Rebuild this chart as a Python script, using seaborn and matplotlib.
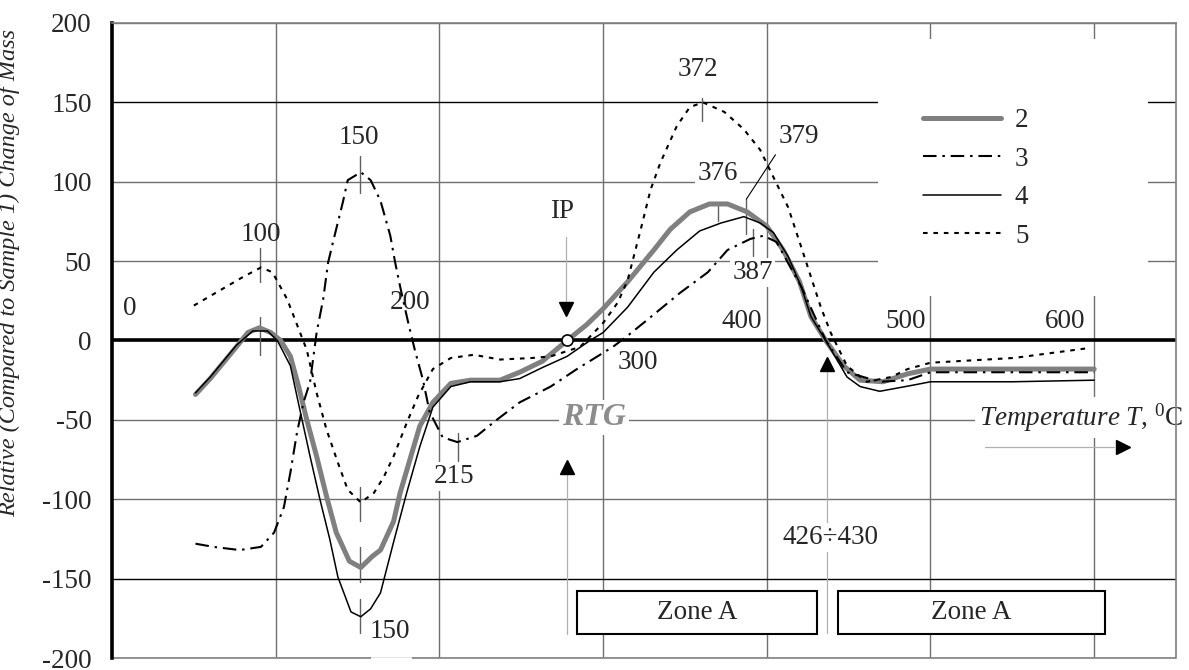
import numpy as np
import pandas as pd
import seaborn as sns
import matplotlib.pyplot as plt
from matplotlib.patches import Rectangle

# curves: temperature (deg C) and relative change of mass
x2 = [51, 60, 68, 76, 83, 90, 97, 103, 109, 114, 119, 125, 131, 137, 145, 152, 159, 164, 172, 176,
      182, 188, 196, 207, 219, 237, 249, 263, 278, 290, 300, 315, 331, 341, 353, 365, 376, 388, 400, 410,
      420, 427, 436, 447, 457, 471, 486, 500, 550, 600]
y2 = [-34, -24, -14, -4, 5, 8, 5, 0, -10, -29, -50, -73, -98, -121, -139, -143, -136, -132, -114, -96,
      -75, -54, -39, -27, -25, -25, -20, -13, 0, 10, 20, 37, 57, 70, 81, 86, 86, 81, 72, 57,
      37, 15, 0, -16, -25, -26, -21, -18, -18, -18]

x3 = [51, 62, 78, 91, 99, 105, 109, 113, 117, 121, 125, 129, 132, 135, 141, 144, 152, 158, 164, 170,
      173, 176, 181, 185, 190, 194, 202, 211, 223, 235, 249, 268, 284, 306, 315, 327, 347, 364, 376, 390,
      398, 406, 414, 421, 436, 449, 469, 486, 500, 550, 600]
y3 = [-128, -130, -132, -130, -121, -105, -83, -58, -39, -26, 5, 26, 49, 62, 87, 101, 106, 101, 88, 66,
      49, 34, 11, -6, -25, -45, -61, -64, -60, -50, -39, -29, -18, -4, 3, 13, 30, 43, 57, 64,
      66, 62, 47, 34, 0, -20, -26, -25, -20, -20, -20]

x4 = [51, 60, 68, 76, 86, 95, 101, 109, 114, 121, 127, 133, 138, 146, 152, 158, 164, 172, 180, 188,
      196, 207, 219, 237, 249, 263, 278, 292, 300, 315, 331, 345, 359, 372, 386, 396, 404, 413, 421, 427,
      436, 449, 457, 469, 490, 500, 550, 600]
y4 = [-33, -23, -13, -3, 6, 6, 0, -16, -40, -73, -100, -125, -149, -171, -174, -169, -159, -127, -96, -67,
      -42, -29, -26, -26, -24, -17, -10, 0, 5, 21, 43, 57, 69, 74, 78, 74, 68, 53, 34, 15,
      0, -23, -29, -32, -28, -26, -26, -25]

x5 = [50, 60, 70, 80, 91, 98, 107, 113, 119, 125, 131, 138, 144, 152, 160, 166, 172, 180, 187, 196,
      207, 221, 237, 257, 268, 286, 300, 309, 315, 323, 329, 335, 345, 353, 361, 374, 386, 396, 404, 413,
      421, 433, 439, 449, 461, 476, 486, 500, 551, 595]
y5 = [22, 28, 34, 40, 46, 43, 26, 10, -6, -33, -56, -77, -94, -102, -96, -86, -73, -52, -35, -18,
      -11, -9, -12, -11, -10, -4, 11, 24, 38, 70, 95, 112, 135, 147, 150, 144, 133, 120, 103, 84,
      59, 21, 5, -16, -26, -23, -18, -14, -11, -5]

# annotation texts (label, T, value)
notes = [('0', 11, 20), ('100', 91, 67), ('150', 151, 128), ('200', 182, 24), ('300', 321.5, -14),
         ('400', 385, 12), ('500', 485, 12), ('600', 582, 12), ('372', 358, 171), ('379', 419.5, 128.5)]
boxed_notes = [('376', 370, 105), ('387', 391.5, 43), ('215', 209, -85.6), ('150', 170, -183),
               ('426÷430', 439, -124)]
# small marker ticks at the extrema (T, from, to)
marks = [(90.5, 37, 58), (90.5, -9, 14.5), (151.6, 93, 116), (151.6, -92, -114), (151.6, -130, -152),
         (151.6, -163, -184), (211.5, -58, -76), (360.6, 138, 153), (370.4, 75, 86), (387.5, 67, 89),
         (391.6, 53, 70)]

FS = 19.5

sns.set_style("white")
plt.rcParams['font.family'] = ['Liberation Serif', 'DejaVu Serif']
plt.rcParams['mathtext.fontset'] = 'custom'
plt.rcParams['mathtext.rm'] = 'Liberation Serif'
plt.rcParams['mathtext.it'] = 'Liberation Serif:italic'
plt.rcParams['axes.unicode_minus'] = False

fig = plt.figure(figsize=(11.89, 6.70), dpi=100)
ax = fig.add_axes([0.0942, 0.0179, 0.8949, 0.9478])

series = {'2': (x2, y2), '3': (x3, y3), '4': (x4, y4), '5': (x5, y5)}
styles = {
    '2': dict(color='#808080', linewidth=3.6, linestyle='-'),
    '3': dict(color='black', linewidth=1.5, linestyle=(0, (6.5, 2.8, 1.2, 2.8))),
    '4': dict(color='black', linewidth=1.1, linestyle='-'),
    '5': dict(color='black', linewidth=1.5, linestyle=(0, (2.2, 2.8))),
}
df = pd.concat([pd.DataFrame({'T': x, 'm': y, 'sample': k}) for k, (x, y) in series.items()])
for k, g in df.groupby('sample', sort=False):
    sns.lineplot(data=g, x='T', y='m', ax=ax, estimator=None, sort=False, label=k, zorder=3, **styles[k])

ax.set_xlim(0, 650)
ax.set_ylim(-200, 200)
ax.set_yticks(np.arange(-200, 201, 50))
ax.set_xticks([100, 200, 300, 400, 500, 600])
ax.set_axisbelow(True)
ax.grid(True, color='#707070', linewidth=1.0)
for v, gl in zip(ax.get_yticks(), ax.yaxis.get_gridlines()):
    if abs(v) == 150:
        gl.set_color('black')
ax.axhline(0, color='black', linewidth=2.6, zorder=2)

ax.tick_params(axis='x', length=0, labelbottom=False)
ax.tick_params(axis='y', length=6.5, width=1, color='#707070', pad=8, labelsize=FS)
ax.set_xlabel('')
ax.set_ylabel('Relative (Compared to Sample 1) Change of Mass', fontsize=17.5, style='italic')
ax.yaxis.set_label_coords(-0.086, 0.606)

ax.spines['left'].set_linewidth(2.6)
ax.spines['left'].set_color('black')
for s in ['top', 'right']:
    ax.spines[s].set_color('#808080')
    ax.spines[s].set_linewidth(1.2)
ax.spines['bottom'].set_visible(False)
ax.hlines([-200, -200], [0, 183], [158, 650], color='#808080', linewidth=1.2, clip_on=False)

# white panel behind the legend
ax.add_patch(Rectangle((468, 28), 165, 162, facecolor='white', edgecolor='none', zorder=1))
h, l = ax.get_legend_handles_labels()
ax.legend(h, l, loc='upper left', bbox_to_anchor=(0.762, 0.866), frameon=False, borderpad=0,
          borderaxespad=0, handlelength=2.9, handletextpad=0.5, labelspacing=0.5, fontsize=FS)

for t, x, y in notes:
    ax.text(x, y, t, ha='center', va='center', fontsize=FS, zorder=2.5)
for t, x, y in boxed_notes:
    ax.text(x, y, t, ha='center', va='center', fontsize=FS, zorder=2.5,
            bbox=dict(facecolor='white', edgecolor='none', pad=1.5))
for x, a, b in marks:
    ax.plot([x, x], [a, b], color='#606060', linewidth=1.0, zorder=2.6)
ax.plot([387.5, 405.3], [89, 117], color='black', linewidth=0.8, zorder=2.6)

ax.text(275, 81, 'IP', ha='center', va='center', fontsize=FS)
ax.text(294.6, -48.5, 'RTG', ha='center', va='center', fontsize=23, fontweight='bold', style='italic',
        color='#8c8c8c', zorder=2.5, bbox=dict(facecolor='white', edgecolor='none', pad=2))
ax.text(592, -48.5, r'$\mathit{Temperature\ T}$, $^{0}$C', ha='center', va='center', fontsize=FS,
        zorder=2.5, clip_on=False, bbox=dict(facecolor='white', edgecolor='none', pad=3))

# pointer arrows: light shaft, black head
ax.plot([277.5, 277.5], [65.5, 24], color='#b0b0b0', linewidth=0.9, zorder=2)
ax.plot(277.5, 20, marker='v', color='black', markersize=10, zorder=4)
ax.plot([278, 278], [-84, -185], color='#b0b0b0', linewidth=0.9, zorder=2)
ax.plot(278, -79.5, marker='^', color='black', markersize=10, zorder=4)
ax.plot([437, 437], [-20, -184], color='#b0b0b0', linewidth=0.9, zorder=2)
ax.plot(437, -15, marker='^', color='black', markersize=10, zorder=4)
ax.plot([533.6, 612], [-67.4, -67.4], color='#b0b0b0', linewidth=0.9, zorder=2)
ax.plot(617.4, -67.4, marker='>', color='black', markersize=10, zorder=4)

ax.plot(278, 0, marker='o', markersize=8, markerfacecolor='white', markeredgecolor='black',
        markeredgewidth=1.2, zorder=5)

for x0, x1 in [(284.2, 430.9), (443.2, 606.4)]:
    ax.add_patch(Rectangle((x0, -185), x1 - x0, 27, facecolor='white', edgecolor='black',
                           linewidth=1.5, zorder=3))
    ax.text((x0 + x1) / 2, -171.5, 'Zone A', ha='center', va='center', fontsize=FS, zorder=4)

fig.savefig('out.png', dpi=100)
